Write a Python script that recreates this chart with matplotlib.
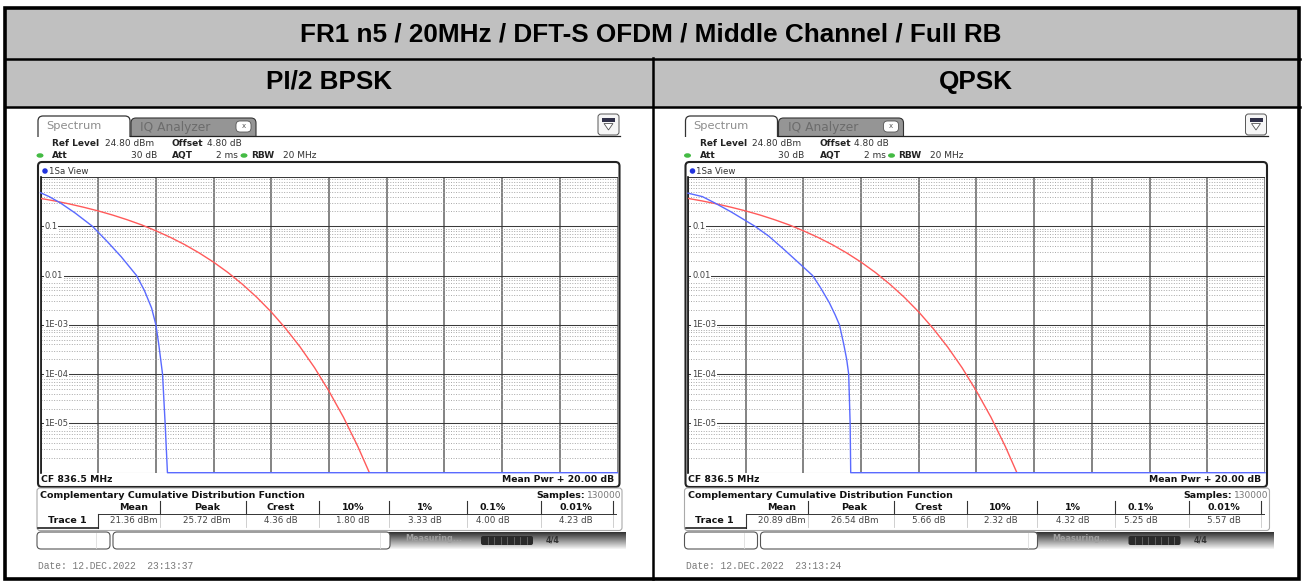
import numpy as np
import matplotlib.pyplot as plt
from matplotlib.patches import FancyBboxPatch, Rectangle, Ellipse, Polygon
import matplotlib.transforms as mtransforms

W, H = 1304, 581

title = 'FR1 n5 / 20MHz / DFT-S OFDM / Middle Channel / Full RB'
panel_titles = ['PI/2 BPSK', 'QPSK']

# CCDF curves, x = dB above mean power, y = probability
ref_db = [0, 0.5, 1, 1.5, 2, 2.5, 3, 3.5, 4, 4.5, 5, 5.5, 6, 6.5, 7, 7.5,
          8, 8.5, 9, 9.5, 10, 10.5, 11, 11.4]
ref_ccdf = [0.368, 0.326, 0.284, 0.243, 0.205, 0.169, 0.136, 0.107, 0.081,
            0.0597, 0.0424, 0.0288, 0.0187, 0.0115, 0.00665, 0.00361,
            0.00182, 8.4e-4, 3.55e-4, 1.35e-4, 4.5e-5, 1.34e-5, 3.4e-6, 1.0e-6]

bpsk_db = [0, 0.3, 0.68, 1.2, 1.8, 2.3, 2.8, 3.33, 3.6, 3.85, 4.0, 4.1,
           4.23, 4.32, 4.40, 20]
bpsk_ccdf = [0.48, 0.40, 0.30, 0.186, 0.10, 0.050, 0.024, 0.010, 0.005,
             0.0022, 0.001, 4.0e-4, 1e-4, 1e-5, 1e-6, 1e-6]

qpsk_db = [0, 0.5, 0.94, 1.5, 2.0, 2.32, 2.8, 3.3, 3.8, 4.32, 4.6, 4.9,
           5.1, 5.25, 5.4, 5.5, 5.57, 5.6, 5.62, 5.64, 20]
qpsk_ccdf = [0.47, 0.40, 0.295, 0.195, 0.13, 0.10, 0.063, 0.035, 0.019,
             0.010, 0.0056, 0.0028, 0.0016, 0.0010, 4.0e-4, 2.0e-4, 1e-4,
             2.5e-5, 1e-5, 1e-6, 1e-6]

ytick_vals = [0.1, 0.01, 1e-3, 1e-4, 1e-5]
ytick_labels = ['0.1', '0.01', '1E-03', '1E-04', '1E-05']

stat_cols = ['Mean', 'Peak', 'Crest', '10%', '1%', '0.1%', '0.01%']
bpsk_stats = ['21.36 dBm', '25.72 dBm', '4.36 dB', '1.80 dB', '3.33 dB', '4.00 dB', '4.23 dB']
qpsk_stats = ['20.89 dBm', '26.54 dBm', '5.66 dB', '2.32 dB', '4.32 dB', '5.25 dB', '5.57 dB']
dates = ['Date: 12.DEC.2022  23:13:37', 'Date: 12.DEC.2022  23:13:24']

BLUE = '#5a6aff'
RED = '#ff5a5a'
GRAY_ROW = '#c0c0c0'
SANS = 'DejaVu Sans'

fig = plt.figure(figsize=(W / 100, H / 100), dpi=100)
bg = fig.add_axes([0, 0, 1, 1])
bg.set_xlim(0, W)
bg.set_ylim(H, 0)
bg.axis('off')


def px_axes(x0, y0, x1, y1):
    return fig.add_axes([x0 / W, 1 - y1 / H, (x1 - x0) / W, (y1 - y0) / H])


def rbox(x0, y0, x1, y1, r=3, fc='white', ec='#333', lw=0.8, z=2):
    p = FancyBboxPatch((x0, y0), x1 - x0, y1 - y0,
                       boxstyle=f'round,pad=0,rounding_size={r}',
                       fc=fc, ec=ec, lw=lw, zorder=z)
    bg.add_patch(p)
    return p


def txt(x, y, s, size=6.5, color='#222', weight='normal', ha='left', family=SANS, z=5):
    bg.text(x, y, s, fontsize=size, color=color, fontweight=weight, ha=ha,
            va='center', family=family, zorder=z)


# ---- outer table ----
bg.add_patch(Rectangle((5, 8), 1295, 50, fc=GRAY_ROW, ec='none', zorder=1))
bg.add_patch(Rectangle((5, 58), 1295, 49, fc=GRAY_ROW, ec='none', zorder=1))
for y in [58.5, 107]:
    bg.plot([5, 1300], [y, y], color='black', lw=1.8, zorder=10)
bg.plot([652.5, 652.5], [58, 579], color='black', lw=1.8, zorder=10)
bg.add_patch(Rectangle((5, 8), 1294, 571, fc='none', ec='black', lw=2.6, zorder=10))

head_font = dict(fontsize=18.8, fontweight='bold', family='Liberation Sans',
                 ha='center', va='baseline', color='black')
bg.text(651, 42, title, **head_font)
bg.text(329, 88.5, panel_titles[0], **head_font)
bg.text(976, 88.5, panel_titles[1], **head_font)


def draw_screen(dx, curve_db, curve_ccdf, stats, date):
    X = lambda v: v + dx
    # tabs
    rbox(X(131), 118, X(256), 146, r=5, fc='#959595', ec='#333', lw=0.8, z=2)
    rbox(X(38), 116, X(130), 146, r=5, fc='white', ec='#333', lw=0.9, z=3)
    bg.add_patch(Rectangle((X(36), 136.5), 590, 12, fc='white', ec='none', zorder=4))
    bg.plot([X(130), X(620)], [136, 136], color='#222', lw=0.9, zorder=5)
    txt(X(46), 126, 'Spectrum', size=8.2, color='#8c8c8c')
    txt(X(140), 127, 'IQ Analyzer', size=8.8, color='#6c6c6c')
    rbox(X(236), 121, X(251), 132, r=4, fc='white', ec='#555', lw=0.6, z=4)
    txt(X(243.5), 126.5, 'x', size=5, color='#555', ha='center')
    # icon top-right
    rbox(X(598), 114, X(619), 135, r=3, fc='#f6f6f6', ec='#555', lw=0.7, z=4)
    bg.add_patch(Rectangle((X(602), 117.5), 13, 4, fc='#303048', ec='none', zorder=5))
    bg.add_patch(Polygon([(X(604), 123.5), (X(613), 123.5), (X(608.5), 130)],
                         closed=True, fc='white', ec='#555', lw=0.6, zorder=5))
    # settings lines
    txt(X(52), 144, 'Ref Level', weight='bold')
    txt(X(105), 144, '24.80 dBm', color='#333')
    txt(X(172), 144, 'Offset', weight='bold')
    txt(X(207), 144, '4.80 dB', color='#333')
    bg.add_patch(Ellipse((X(40), 155.5), 7, 4.5, fc='#44bb44', ec='none', zorder=5))
    txt(X(52), 155.5, 'Att', weight='bold')
    txt(X(157), 155.5, '30 dB', color='#333', ha='right')
    txt(X(172), 155.5, 'AQT', weight='bold')
    txt(X(238), 155.5, '2 ms', color='#333', ha='right')
    bg.add_patch(Ellipse((X(244), 155.5), 7, 4.5, fc='#44bb44', ec='none', zorder=5))
    txt(X(251), 155.5, 'RBW', weight='bold')
    txt(X(283), 155.5, '20 MHz', color='#333')
    # diagram frame
    rbox(X(38), 162, X(619.5), 487, r=4, fc='white', ec='#222', lw=1.5, z=2)
    bg.add_patch(Ellipse((X(45), 171), 5.5, 5.5, fc='#2233dd', ec='none', zorder=5))
    txt(X(49), 171, '1Sa View', size=6.2, color='#333')
    txt(X(41), 480, 'CF 836.5 MHz', size=6.7, color='#111', weight='bold')
    txt(X(614), 480, 'Mean Pwr + 20.00 dB', size=6.7, color='#111', weight='bold', ha='right')

    # CCDF plot
    ax = px_axes(X(40.5), 177, X(617.5), 472.7)
    ax.set_yscale('log')
    ax.set_xlim(0, 20)
    ax.set_ylim(1e-6, 1)
    ax.set_xticks(np.arange(0, 21, 2))
    ax.set_yticks([1, 0.1, 0.01, 1e-3, 1e-4, 1e-5, 1e-6])
    ax.set_yticks([m * 10.0 ** e for e in range(-6, 0) for m in range(2, 10)], minor=True)
    ax.tick_params(which='both', length=0, labelleft=False, labelbottom=False)
    ax.grid(which='minor', axis='y', color='#a8a8a8', lw=0.7, ls=(0, (1, 1.6)))
    ax.grid(which='major', axis='y', color='#3a3a3a', lw=0.75)
    ax.grid(which='major', axis='x', color='#7a7a7a', lw=1.3)
    ax.set_axisbelow(True)
    for s in ['top', 'bottom', 'right']:
        ax.spines[s].set_visible(False)
    ax.spines['left'].set_color('#111')
    ax.spines['left'].set_linewidth(1.2)
    trans = mtransforms.blended_transform_factory(ax.transAxes, ax.transData)
    for v, lab in zip(ytick_vals, ytick_labels):
        ax.text(0.007, v, lab, transform=trans, fontsize=6, color='#444', family=SANS,
                ha='left', va='center',
                bbox=dict(fc='white', ec='none', pad=0.6), zorder=3)
    ax.plot(ref_db, ref_ccdf, color=RED, lw=1.0, zorder=4)
    ax.plot(curve_db, curve_ccdf, color=BLUE, lw=1.0, zorder=5, clip_on=False)

    # statistics table
    rbox(X(37), 488, X(622), 530.5, r=3, fc='white', ec='#aaaaaa', lw=0.8, z=2)
    txt(X(40), 495, 'Complementary Cumulative Distribution Function', size=6.8,
        weight='bold', color='#111')
    txt(X(585), 495, 'Samples:', size=6.8, weight='bold', color='#111', ha='right')
    txt(X(621), 495, '130000', size=6.5, color='#777', ha='right')
    centers = [134, 207, 281, 353, 425, 493, 576]
    seps = [160, 246, 319, 389, 467, 541, 613]
    for cx, col, val in zip(centers, stat_cols, stats):
        txt(X(cx), 507.5, col, size=6.8, weight='bold', color='#111', ha='center')
        txt(X(cx), 520.5, val, size=6.3, color='#444', ha='center')
    for sx in seps:
        bg.plot([X(sx), X(sx)], [501, 513], color='#333', lw=0.8, zorder=5)
        bg.plot([X(sx), X(sx)], [514, 527], color='#c8c8c8', lw=0.6, zorder=5)
    bg.plot([X(98), X(616)], [513.5, 513.5], color='#333', lw=0.7, zorder=5)
    bg.plot([X(98), X(98)], [513.5, 527.5], color='#333', lw=0.8, zorder=5)
    bg.plot([X(38), X(98)], [527.5, 527.5], color='#222', lw=1.2, zorder=5)
    txt(X(67), 520.5, 'Trace 1', size=6.8, weight='bold', color='#111', ha='center')

    # status bar
    grad = np.linspace(0, 1, 40).reshape(-1, 1)
    bg.imshow(grad, cmap='gray', vmin=-0.25, vmax=1.05, aspect='auto',
              extent=(X(388), X(626), 549, 532), zorder=1.5, interpolation='bilinear')
    rbox(X(37), 532, X(110), 549, r=4, fc='white', ec='#555', lw=0.8, z=3)
    bg.plot([X(96), X(96)], [533, 548], color='#dddddd', lw=0.6, zorder=4)
    rbox(X(113), 532, X(390), 549, r=4, fc='white', ec='#555', lw=0.8, z=3)
    bg.plot([X(380), X(380)], [533, 548], color='#dddddd', lw=0.6, zorder=4)
    txt(X(405), 538.5, 'Measuring...', size=5.8, color='#a0a0a0', weight='bold')
    rbox(X(481), 536, X(533), 545, r=2, fc='#2a2a2a', ec='none', z=4)
    for k in range(1, 8):
        bg.plot([X(481 + k * 6.5), X(481 + k * 6.5)], [537, 544], color='#777', lw=0.5, zorder=5)
    txt(X(546), 540, '4/4', size=5.8, color='#333', weight='bold')

    txt(X(38), 566, date, size=6.9, color='#7a7a7a', family='Liberation Mono')


draw_screen(0, bpsk_db, bpsk_ccdf, bpsk_stats, dates[0])
draw_screen(647.5, qpsk_db, qpsk_ccdf, qpsk_stats, dates[1])

fig.savefig('out.png', dpi=100)
